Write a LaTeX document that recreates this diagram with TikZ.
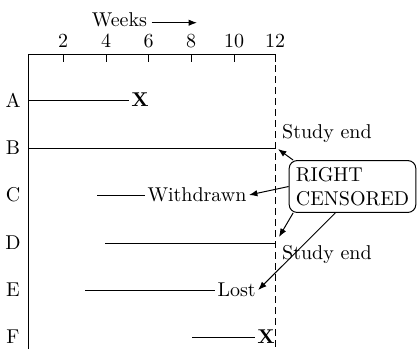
\documentclass[tikz,border=0pt]{standalone}
\usetikzlibrary{arrows.meta}
\begin{document}
\begin{tikzpicture}[x=0.5pt, y=-0.5pt, line width=0.5pt, lbl/.style={inner sep=#1, node font=\normalsize}, lbl/.default=0pt, tip/.style={-{Latex[length=4.2pt, width=3.2pt]}}, cross/.style={inner sep=1pt, node font=\bfseries}, callout/.style={rectangle, draw, rounded corners=4pt, align=left, line width=0.5pt}, sidenode/.style={anchor=west, inner sep=#1}, sidenode/.default=1pt]

\useasboundingbox (0,0) rectangle (417,349);

\draw (28,349) -- (28,54) -- (275,54);
\draw[dash pattern=on 3.5pt off 2pt] (275,54) -- (275,349);
\foreach \wk/\xx in {2/63, 4/106, 6/148.5, 8/191, 10/234, 12/275}{
  \draw (\xx,54) -- (\xx,62);
  \node[lbl] (T\wk) at (\xx,41) {\wk};
}
\node[lbl=2pt] (WK) at (119.5,20) {Weeks};
\coordinate (WKEND) at (197,22.7);
\draw[tip] (WK.east |- WKEND) -- (WKEND);

\foreach \row/\yy in {A/100, B/148, C/195, D/243, E/290, F/337}
  \node[lbl] (R\row) at (13,\yy) {\row};

\node[cross] (XA) at (140,100) {X};
\node[sidenode] (WD) at (145,195) {Withdrawn};
\node[sidenode] (LOST) at (215,290) {Lost};
\node[cross] (XF) at (266,337) {X};
\node[sidenode=3.33pt] (SE1) at (275,133) {Study end};
\node[sidenode=3.33pt] (SE2) at (275,254) {Study end};
\node[callout] (RC) at (352.5,186.5) {RIGHT\\CENSORED};

\draw (28,100) -- (XA.west);
\draw (28,148) -- (275,148);
\draw (97,195) -- (WD.west);
\draw (105,243) -- (275,243);
\draw (85,290) -- (LOST.west);
\draw (192,337) -- (XF.west);

\coordinate (BEND) at (278,149);
\coordinate (DEND) at (279,237);
\draw[tip] (RC.156) -- (BEND);
\draw[tip] (RC.west) -- (WD.east);
\draw[tip] (RC.204) -- (DEND);
\draw[tip] (RC.237) -- (LOST.east);

\end{tikzpicture}
\end{document}
